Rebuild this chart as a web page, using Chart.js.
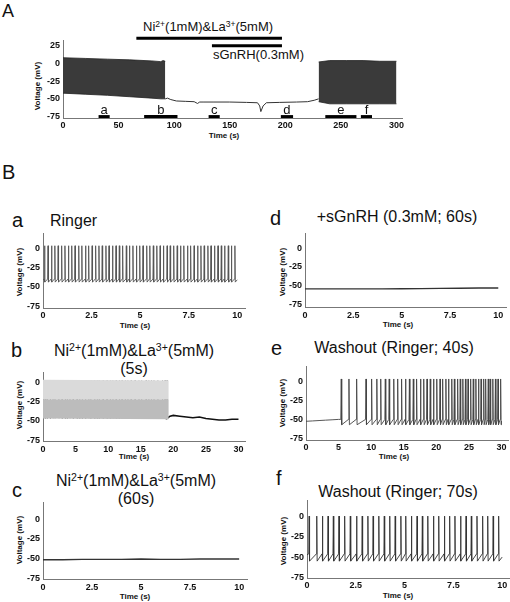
<!DOCTYPE html>
<html>
<head>
<meta charset="utf-8">
<script src="https://cdn.jsdelivr.net/npm/chart.js@4/dist/chart.umd.min.js"></script>
<style>
    body { margin: 0; background: #fff; overflow: hidden; }
    #fig { position: relative; width: 510px; height: 602px; overflow: hidden; font-family: "Liberation Sans", Arial, Helvetica, sans-serif; color: #111; }
    #fig canvas { position: absolute; }
    .t { position: absolute; white-space: nowrap; line-height: 1; }
    .lbl { font-size: 20px; }
    .ttl { font-size: 16px; }
    .small { font-size: 13px; }
    .ctr { transform: translateX(-50%); text-align: center; }
    .two { line-height: 18.3px; }
    .ax { position: absolute; white-space: nowrap; font-size: 8px; font-weight: bold; line-height: 1; transform: translate(-50%, -50%); }
    .ax.v { transform: translate(-50%, -50%) rotate(-90deg); }
    sup { font-size: 0.66em; line-height: 0; vertical-align: 0.5em; }
</style>
</head>
<body>
<div id="fig">
    <div class="t" style="left:2px;top:2px;font-size:18px">A</div>
    <div class="t small" style="left:143px;top:20px">Ni<sup>2+</sup>(1mM)&amp;La<sup>3+</sup>(5mM)</div>
    <div class="t small" style="left:213px;top:48px">sGnRH(0.3mM)</div>
    <div class="ax v" style="left:38px;top:86px">Voltage (mV)</div>
    <div class="ax" style="left:224px;top:136px">Time (s)</div>

    <div class="t" style="left:2px;top:162px;font-size:20px">B</div>

    <div class="t lbl" style="left:12px;top:210px">a</div>
    <div class="t ttl" style="left:50px;top:213px">Ringer</div>
    <div class="ax v" style="left:20px;top:272px">Voltage (mV)</div>
    <div class="ax" style="left:135px;top:326px">Time (s)</div>

    <div class="t lbl" style="left:270px;top:208px">d</div>
    <div class="t ttl ctr" style="left:397px;top:209px">+sGnRH (0.3mM; 60s)</div>
    <div class="ax v" style="left:283px;top:272px">Voltage (mV)</div>
    <div class="ax" style="left:398px;top:325px">Time (s)</div>

    <div class="t lbl" style="left:11px;top:340px">b</div>
    <div class="t ttl ctr two" style="left:134px;top:342px">Ni<sup>2+</sup>(1mM)&amp;La<sup>3+</sup>(5mM)<br>(5s)</div>
    <div class="ax v" style="left:20px;top:405px">Voltage (mV)</div>
    <div class="ax" style="left:134px;top:457px">Time (s)</div>

    <div class="t lbl" style="left:271px;top:338px">e</div>
    <div class="t ttl ctr" style="left:394px;top:340px">Washout (Ringer; 40s)</div>
    <div class="ax v" style="left:283px;top:403px">Voltage (mV)</div>
    <div class="ax" style="left:394px;top:457px">Time (s)</div>

    <div class="t lbl" style="left:12px;top:480px">c</div>
    <div class="t ttl ctr two" style="left:136px;top:472px">Ni<sup>2+</sup>(1mM)&amp;La<sup>3+</sup>(5mM)<br>(60s)</div>
    <div class="ax v" style="left:20px;top:540px">Voltage (mV)</div>
    <div class="ax" style="left:135px;top:597px">Time (s)</div>

    <div class="t lbl" style="left:276px;top:468px">f</div>
    <div class="t ttl ctr" style="left:398px;top:484px">Washout (Ringer; 70s)</div>
    <div class="ax v" style="left:284px;top:541px">Voltage (mV)</div>
    <div class="ax" style="left:398px;top:596px">Time (s)</div>
</div>
<script>
// ---- panel A: whole recording (s, mV) ----
var aTicksX = [0, 50, 100, 150, 200, 250, 300];
var aTicksY = [-75, -50, -25, 0, 25];
var burst1T = [0, 20, 40, 60, 80, 88, 90, 92];
var burst1Top = [8, 7, 6, 5, 3.5, 2.5, 4, 3];
var burst1Bottom = [-42, -43.5, -45, -47, -49, -50, -50, -50];
var restT = [92, 94, 97, 102, 110, 118, 121, 123, 126, 135, 150, 165, 175, 177, 178, 180, 183, 195, 210, 220, 226, 230];
var restV = [-50, -49, -51, -53, -53.5, -54, -56.5, -54.5, -54.5, -54.5, -54.5, -55, -55.5, -60, -68, -60, -55.5, -55, -54.5, -54, -52, -50];
var burst2T = [230, 240, 255, 270, 285, 300];
var burst2Top = [2, 4, 4, 4, 3, 3];
var burst2Bottom = [-54, -57, -57, -57, -57, -57];
var windowNames = ['a', 'b', 'c', 'd', 'e', 'f'];
var windowStart = [32, 73, 131, 196, 236, 268];
var windowEnd = [42, 103, 141, 207, 264, 278];
var treatStart = [66, 134];   // Ni/La, sGnRH
var treatEnd = [197, 197];

// ---- panel B traces ----
var tenTicks = [0, 2.5, 5, 7.5, 10];
var thirtyTicks = [0, 5, 10, 15, 20, 25, 30];
var bTicksY = [-75, -50, -25, 0];

var aSpikes = [0.06, 0.24, 0.42, 0.59, 0.76, 0.94, 1.11, 1.29, 1.46, 1.63, 1.82, 1.98, 2.17, 2.33, 2.51, 2.69, 2.86, 3.03, 3.22, 3.38,
    3.56, 3.74, 3.91, 4.08, 4.27, 4.43, 4.61, 4.79, 4.96, 5.13, 5.32, 5.48, 5.66, 5.84, 6.01, 6.18, 6.37, 6.53, 6.71, 6.89,
    7.06, 7.23, 7.42, 7.58, 7.76, 7.94, 8.11, 8.28, 8.47, 8.63, 8.81, 8.99, 9.16, 9.33, 9.52, 9.68, 9.86];
var aLevels = [3, -44, -40];      // peak, trough, threshold

var bBandT = [0, 19.3];
var bBandTop = [3, 2];
var bBandMid = [-22, -22];
var bBandBottom = [-47, -48];
var bSpikes = [0.3, 0.6, 1.1, 1.5, 1.8, 2.4, 2.9, 3.4, 3.7, 4.1, 4.6, 5.2, 5.6, 6.0, 6.5, 7.0, 7.3, 7.9, 8.3, 8.6,
    9.2, 9.8, 10.3, 10.7, 11.2, 11.7, 12.1, 12.6, 13.0, 13.5, 14.1, 14.7, 15.1, 15.8, 16.2, 16.6, 17.0, 17.6, 18.3, 18.7, 19.0];
var bBaseT = [0, 0.5, 1, 2, 3, 4, 5, 6, 7, 8, 9, 10, 11, 12, 13, 14, 15, 16, 17, 18, 19, 19.5, 20, 21, 22, 23, 24, 25, 26, 27, 28, 29, 30];
var bBaseV = [-42, -43, -41, -43, -42, -43, -42, -44, -43, -44, -43, -44, -45, -44, -45, -46, -45, -46, -46, -45, -47, -44, -43, -44, -45, -46, -45, -47, -48, -49, -49, -48, -48];

var cT = [0, 1, 2, 3, 4, 5, 6, 7, 8, 9, 10];
var cV = [-51.5, -51.5, -51, -51, -51, -50.5, -51, -51, -50.5, -50.5, -50.5];
var dV = [-54, -54, -54, -54, -54, -53.8, -53.6, -53.4, -53.2, -52.8, -52.8];

var eLeadT = [0, 1, 2, 3, 4, 5];
var eLeadV = [-52.5, -52, -51.5, -51, -50.5, -50];
var eSpikes = [5.34, 6.52, 7.70, 9.14, 10.0, 10.8, 11.4, 12.1, 12.7, 13.4, 14.0, 14.6, 15.2, 15.8, 16.4, 16.9, 17.5, 18.0, 18.5, 19.0,
    19.5, 20.0, 20.5, 20.9, 21.4, 21.8, 22.3, 22.7, 23.2, 23.6, 24.0, 24.4, 24.8, 25.2, 25.6, 26.0, 26.4, 26.8, 27.2, 27.5,
    27.9, 28.2, 28.6, 29.0, 29.4, 29.8];
var eLevels = [3, -57, -50];

var fSpikes = [0.09, 0.48, 0.77, 1.06, 1.33, 1.62, 1.91, 2.2, 2.52, 2.81, 3.1, 3.37, 3.66, 3.94, 4.22, 4.5, 4.79, 5.04, 5.33, 5.62,
    5.89, 6.17, 6.46, 6.73, 7.02, 7.29, 7.56, 7.85, 8.13, 8.4, 8.69, 8.98, 9.24, 9.52, 9.8];
var fLevels = [1, -55, -46];

var FONT = '"Liberation Sans", Arial, sans-serif';
var WY = 30, HX = 14, PR = 8;

function pts(xs, ys) {
    return xs.map(function (x, i) { return { x: x, y: ys[i] }; });
}

// one polyline: lead-in points, then up / down strokes at each spike time
function spikeTrain(lead, spikes, levels, w, end) {
    var p = lead.slice();
    spikes.forEach(function (t) {
        p.push({ x: t, y: levels[2] });
        p.push({ x: t + w, y: levels[0] });
        p.push({ x: t + 2 * w, y: levels[1] });
    });
    p.push(end);
    return p;
}

function line(data, color, width, extra) {
    var d = { data: data, borderColor: color, borderWidth: width, pointRadius: 0, fill: false, tension: 0, spanGaps: false };
    for (var k in extra) d[k] = extra[k];
    return d;
}

function makePanel(box, datasets, plugins) {
    var pt = box.pt || 12;
    var c = document.createElement('canvas');
    var w = box.x1 - box.x0 + WY + PR, h = box.yBot - box.yTop + pt + HX;
    c.width = w; c.height = h;
    c.style.left = (box.x0 - WY) + 'px';
    c.style.top = (box.yTop - pt) + 'px';
    c.style.width = w + 'px'; c.style.height = h + 'px';
    document.getElementById('fig').appendChild(c);
    var tickFont = { family: FONT, size: 9, weight: 'bold' };
    var border = { color: '#777', width: 1, dash: [2, 1] };
    return new Chart(c.getContext('2d'), {
        type: 'line',
        data: { datasets: datasets },
        plugins: plugins || [],
        options: {
            responsive: false, animation: false, events: [],
            layout: { padding: { top: pt, right: PR, left: 0, bottom: 0 } },
            plugins: { legend: { display: false }, tooltip: { enabled: false } },
            scales: {
                x: {
                    type: 'linear', min: box.xmin, max: box.xmax,
                    grid: { display: false, drawTicks: false }, border: border,
                    ticks: { font: tickFont, color: '#111', padding: box.xpad, maxRotation: 0, autoSkip: false,
                        callback: function (v) { return String(v); } },
                    afterBuildTicks: function (s) { s.ticks = box.xTicks.map(function (v) { return { value: v }; }); },
                    afterFit: function (s) { s.height = HX; }
                },
                y: {
                    type: 'linear', min: box.ymin, max: box.ymax,
                    grid: { display: false, drawTicks: false }, border: border,
                    ticks: { font: tickFont, color: '#111', padding: 3,
                        callback: function (v) { return String(v); } },
                    afterBuildTicks: function (s) { s.ticks = box.yTicks.map(function (v) { return { value: v }; }); },
                    afterFit: function (s) { s.width = WY; }
                }
            }
        }
    });
}

// letters above the sampling windows of panel A
var windowLetters = {
    id: 'windowLetters',
    afterDatasetsDraw: function (chart) {
        var ctx = chart.ctx, xs = chart.scales.x, ys = chart.scales.y;
        ctx.save();
        ctx.font = '13px ' + FONT;
        ctx.fillStyle = '#111';
        ctx.textAlign = 'center';
        windowNames.forEach(function (n, i) {
            ctx.fillText(n, xs.getPixelForValue((windowStart[i] + windowEnd[i]) / 2), ys.getPixelForValue(-75) - 3);
        });
        ctx.restore();
    }
};

// ---- panel A ----
var aSets = [
    line(pts(burst1T, burst1Bottom), '#222', 0.8),
    line(pts(burst1T, burst1Top), '#222', 0.8, { fill: '-1', backgroundColor: '#3a3a3a' }),
    line(pts(burst2T, burst2Bottom), '#222', 0.8),
    line(pts(burst2T, burst2Top), '#222', 0.8, { fill: '-1', backgroundColor: '#3a3a3a' }),
    line(pts(restT, restV), '#333', 1)
];
windowNames.forEach(function (n, i) {
    aSets.push(line([{ x: windowStart[i], y: -75 }, { x: windowEnd[i], y: -75 }], '#000', 3, { borderCapStyle: 'butt' }));
});
aSets.push(line([{ x: treatStart[0], y: 35.4 }, { x: treatEnd[0], y: 35.4 }], '#000', 3, { clip: false, borderCapStyle: 'butt' }));
aSets.push(line([{ x: treatStart[1], y: 25 }, { x: treatEnd[1], y: 25 }], '#000', 3, { clip: false, borderCapStyle: 'butt' }));

makePanel({ x0: 63, x1: 402, yTop: 40, yBot: 118, pt: 30, xmin: 0, xmax: 305, ymin: -77, ymax: 33,
    xTicks: aTicksX, yTicks: aTicksY, xpad: 2 }, aSets, [windowLetters]);

// ---- a: Ringer ----
makePanel({ x0: 43, x1: 245, yTop: 233, yBot: 308, xmin: 0, xmax: 10.4, ymin: -77.5, ymax: 19.5,
    xTicks: tenTicks, yTicks: bTicksY, xpad: 2 },
    [line(spikeTrain([{ x: 0, y: -41 }], aSpikes, aLevels, 0.02, { x: 10, y: -41 }), '#555', 0.9)]);

// ---- d: +sGnRH ----
makePanel({ x0: 305, x1: 506, yTop: 233, yBot: 307, xmin: 0, xmax: 10.4, ymin: -78, ymax: 20,
    xTicks: tenTicks, yTicks: bTicksY, xpad: 3 },
    [line(pts(cT, dV), '#333', 1.4)]);

// ---- b: Ni/La 5 s ----
var bSpikePts = [];
bSpikes.forEach(function (t) {
    bSpikePts.push({ x: t, y: -45 }, { x: t + 0.03, y: 2 }, { x: t + 0.06, y: -47 }, { x: t + 0.07, y: null });
});
makePanel({ x0: 43, x1: 245, yTop: 372, yBot: 441, xmin: 0, xmax: 31, ymin: -76, ymax: 13,
    xTicks: thirtyTicks, yTicks: bTicksY, xpad: 3 },
    [
        line(pts(bBandT, bBandMid), 'rgba(0,0,0,0)', 0),
        line(pts(bBandT, bBandTop), 'rgba(0,0,0,0)', 0, { fill: '-1', backgroundColor: '#dadada' }),
        line(pts(bBandT, bBandBottom), 'rgba(0,0,0,0)', 0),
        line(pts(bBandT, bBandMid), 'rgba(0,0,0,0)', 0, { fill: '-1', backgroundColor: '#bcbcbc' }),
        line(bSpikePts, '#777', 0.7),
        line(pts(bBaseT, bBaseV), '#111', 1.6)
    ]);

// ---- e: washout 40 s ----
makePanel({ x0: 306, x1: 508, yTop: 366, yBot: 440, xmin: 0, xmax: 31, ymin: -77, ymax: 20,
    xTicks: thirtyTicks, yTicks: bTicksY, xpad: 2 },
    [line(spikeTrain(pts(eLeadT, eLeadV), eSpikes, eLevels, 0.07, { x: 30, y: -52 }), '#444', 0.9)]);

// ---- c: Ni/La 60 s ----
makePanel({ x0: 43, x1: 247, yTop: 502, yBot: 579, xmin: 0, xmax: 10.4, ymin: -76, ymax: 22,
    xTicks: tenTicks, yTicks: bTicksY, xpad: 3 },
    [line(pts(cT, cV), '#333', 1.4)]);

// ---- f: washout 70 s ----
makePanel({ x0: 307, x1: 509, yTop: 500, yBot: 578, xmin: 0, xmax: 10.35, ymin: -76, ymax: 21,
    xTicks: tenTicks, yTicks: bTicksY, xpad: 2 },
    [line(spikeTrain([{ x: 0, y: -47 }], fSpikes, fLevels, 0.02, { x: 10, y: -50 }), '#333', 0.9)]);
</script>
</body>
</html>
